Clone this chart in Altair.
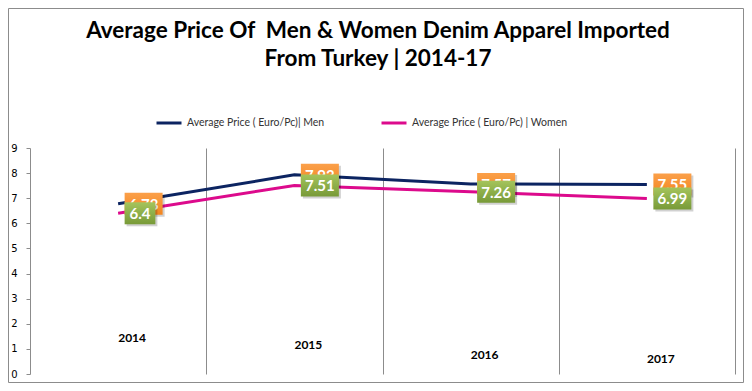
import altair as alt
import pandas as pd

# ---- data ----
years = ["2014", "2015", "2016", "2017"]
men = [6.78, 7.93, 7.57, 7.55]
women = [6.4, 7.51, 7.26, 6.99]
year_label_level = [1.45, 1.15, 0.75, 0.6]
series_names = ["Average Price ( Euro/Pc)| Men", "Average Price ( Euro/Pc)  |  Women"]
title_lines = ["Average Price Of\u00a0 Men & Women Denim Apparel Imported", "From Turkey | 2014-17"]

W, H = 705, 226
PPU = W / 4.0  # pixels per category unit

NAVY = "#0c2461"
MAGENTA = "#dc0a8c"
GRID = "#8c8c8c"

rows = []
for i, yr in enumerate(years):
    rows.append(dict(idx=i, year=yr, series=series_names[0], value=men[i],
                     label=f"{men[i]:g}", grp="men"))
for i, yr in enumerate(years):
    rows.append(dict(idx=i, year=yr, series=series_names[1], value=women[i],
                     label=f"{women[i]:g}", grp="women"))
df = pd.DataFrame(rows)

ylab = pd.DataFrame({"idx": list(range(len(years))), "year": years, "level": year_label_level})
one = pd.DataFrame({"a": [0]})

xscale = alt.Scale(domain=[-0.5, 3.5], nice=False, zero=False)
yscale = alt.Scale(domain=[0, 9], nice=False)
xaxis = alt.Axis(values=[0.5, 1.5, 2.5, 3.5], grid=True, labels=False, ticks=False,
                 domain=False, title=None, gridColor=GRID, gridWidth=1, gridOpacity=1)
yaxis = alt.Axis(values=list(range(10)), grid=False, title=None, tickSize=4,
                 tickColor=GRID, domainColor=GRID, labelPadding=9,
                 labelFont="DejaVu Sans", labelFontSize=10, labelColor="#000000")


def X(field):
    return alt.X(field, scale=xscale, axis=xaxis)


def Y(field):
    return alt.Y(field, scale=yscale, axis=yaxis)


border = alt.Chart(one).mark_rect(fill="white", fillOpacity=0, stroke=GRID, strokeWidth=1).encode(
    x=alt.value(-21.5), x2=alt.value(713.5), y=alt.value(-139.5), y2=alt.value(234.5))

title = alt.Chart(one).mark_text(text=title_lines, lineHeight=28, font="Lato", fontSize=22.5,
                                 fontWeight="bold", baseline="top", align="center",
                                 color="#000000").encode(x=alt.value(348), y=alt.value(-128))

lines = alt.Chart(df).mark_line(strokeWidth=3).encode(
    x=X("idx:Q"), y=Y("value:Q"),
    color=alt.Color("series:N",
                    scale=alt.Scale(domain=series_names, range=[NAVY, MAGENTA]),
                    legend=alt.Legend(orient="none", legendX=125, legendY=-39,
                                      direction="horizontal", title=None, symbolType="stroke",
                                      symbolSize=625, symbolStrokeWidth=3, labelFont="Lato",
                                      labelFontSize=10.5, labelColor="#333333", columnPadding=50,
                                      labelLimit=400)),
    detail="series:N")

year_text = alt.Chart(ylab).mark_text(font="Lato", fontSize=12, fontWeight="bold", dx=14,
                                       color="#000000").encode(
    x=X("idx:Q"), y=Y("level:Q"), text="year:N")

base = alt.Chart(df).transform_calculate(
    w=f"(9 + 7.25*length(datum.label))/{PPU}",
).transform_calculate(
    x2v="datum.idx + datum.w",
    xm="datum.idx + datum.w/2",
)

orange_grad = alt.LinearGradient(gradient="linear", x1=0, x2=0, y1=0, y2=1,
                                 stops=[alt.GradientStop(color="#fba04a", offset=0),
                                        alt.GradientStop(color="#f2851f", offset=1)])
green_grad = alt.LinearGradient(gradient="linear", x1=0, x2=0, y1=0, y2=1,
                                stops=[alt.GradientStop(color="#a4c45c", offset=0),
                                       alt.GradientStop(color="#789a38", offset=1)])


def box_layers(grp, grad):
    b = base.transform_filter(alt.datum.grp == grp)
    shadow = b.mark_rect(color="#000000", opacity=0.18, xOffset=8.5, x2Offset=8.5,
                         yOffset=-9, y2Offset=13).encode(
        x=X("idx:Q"), x2="x2v:Q", y=Y("value:Q"), y2="value:Q")
    box = b.mark_rect(color=grad, xOffset=6.5, x2Offset=6.5, yOffset=-11, y2Offset=11).encode(
        x=X("idx:Q"), x2="x2v:Q", y=Y("value:Q"), y2="value:Q")
    txt = b.mark_text(font="Lato", fontSize=15, fontWeight="bold", color="white",
                      dx=6.5, dy=1, align="center", baseline="middle").encode(
        x=X("xm:Q"), y=Y("value:Q"), text="label:N")
    return [shadow, box, txt]


layers = [lines, border, title, year_text] + box_layers("men", orange_grad) + box_layers("women", green_grad)

chart = alt.layer(*layers).properties(
    width=W, height=H,
    autosize=alt.AutoSizeParams(type="none"),
    padding={"left": 22, "top": 140, "right": 9, "bottom": 9},
    background="white",
).configure_view(stroke=None)

chart.save("out.html", embed_options={"renderer": "svg", "actions": False})
